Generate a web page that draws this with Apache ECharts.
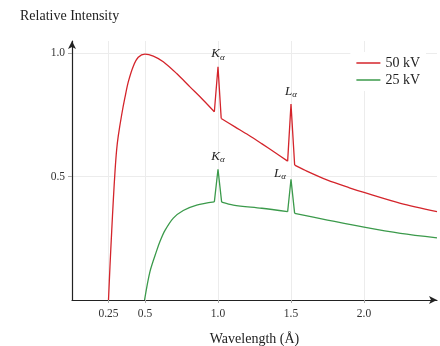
<!DOCTYPE html>
<html>
<head>
<meta charset="utf-8">
<script src="https://cdn.jsdelivr.net/npm/echarts@6/dist/echarts.min.js"></script>
<style>
  html, body { margin: 0; padding: 0; background: #fff; }
  #chart { width: 440px; height: 346px; }
</style>
</head>
<body>
<div id="chart"></div>
<script>
// 50 kV spectrum: wavelength (Å) and relative intensity
const wavelength50 = [0.25, 0.26, 0.272, 0.283, 0.295, 0.306, 0.317, 0.34, 0.363, 0.386, 0.42, 0.454, 0.5, 0.557, 0.625, 0.717, 0.808, 0.9, 0.975,
  1.0, 1.022, 1.116, 1.208, 1.299, 1.39, 1.477, 1.5, 1.525, 1.6, 1.75, 1.9, 2.0, 2.25, 2.5];
const intensity50 = [0, 0.135, 0.28, 0.405, 0.525, 0.61, 0.665, 0.75, 0.822, 0.885, 0.948, 0.984, 0.997, 0.989, 0.966, 0.918, 0.864, 0.81, 0.763,
  0.945, 0.736, 0.702, 0.669, 0.634, 0.598, 0.563, 0.794, 0.547, 0.525, 0.486, 0.455, 0.436, 0.392, 0.358];

// 25 kV spectrum
const wavelength25 = [0.497, 0.534, 0.58, 0.603, 0.637, 0.694, 0.762, 0.854, 0.975, 1.0, 1.025, 1.105, 1.3, 1.477, 1.5, 1.525, 1.75, 2.0, 2.25, 2.5];
const intensity25 = [0, 0.115, 0.2, 0.238, 0.282, 0.332, 0.363, 0.385, 0.398, 0.53, 0.397, 0.385, 0.372, 0.358, 0.489, 0.351, 0.324, 0.295, 0.27, 0.252];

const xTicks = [0.25, 0.5, 1.0, 1.5, 2.0];
const yTicks = [0.5, 1.0];

const seriesNames = ['50 kV', '25 kV'];
const seriesColors = ['#d4242b', '#3b9a4b'];

// characteristic lines: [wavelength, letter]
const lines = [[1.0, 'K'], [1.5, 'L']];

const font = '"Liberation Serif", "DejaVu Serif", serif';

const richLabel = {
  k: { fontFamily: font, fontStyle: 'italic', fontSize: 13, color: '#222' },
  a: { fontFamily: font, fontStyle: 'italic', fontSize: 9, color: '#222', padding: [7, 0, 0, 0] }
};

function peakMarks(xs, ys, green) {
  return lines.map(([x, letter]) => {
    const i = xs.indexOf(x);
    const left = green && letter === 'L';
    return {
      coord: [x, ys[i]],
      label: {
        show: true,
        position: left ? 'left' : 'top',
        distance: left ? 5 : 5,
        offset: left ? [0, -6] : [0, 0],
        formatter: '{k|' + letter + '}{a|α}',
        rich: richLabel
      }
    };
  });
}

// split a spectrum into smooth continuum pieces and sharp peak triangles
function buildSeries(idx, xs, ys) {
  const pts = xs.map((x, i) => [x, ys[i]]);
  const peakIdx = lines.map(([x]) => xs.indexOf(x));
  const base = {
    name: seriesNames[idx],
    type: 'line',
    symbol: 'none',
    color: seriesColors[idx],
    lineStyle: { width: 1.3 }
  };
  const out = [];
  let start = 0;
  peakIdx.forEach(p => {
    out.push({ ...base, smooth: 0.3, data: pts.slice(start, p) });
    out.push({ ...base, smooth: false, data: pts.slice(p - 1, p + 2) });
    start = p + 1;
  });
  out.push({ ...base, smooth: 0.3, data: pts.slice(start) });
  out[0].markPoint = { symbol: 'circle', symbolSize: 0, data: peakMarks(xs, ys, idx === 1) };
  return out;
}

const chart = echarts.init(document.getElementById('chart'));

chart.setOption({
  animation: false,
  backgroundColor: '#fff',
  grid: { left: 72, right: 3, top: 41, bottom: 46, outerBoundsMode: 'none', containLabel: false },
  legend: {
    right: 14,
    top: 52,
    orient: 'vertical',
    icon: 'rect',
    itemWidth: 24,
    itemHeight: 1.5,
    itemGap: 3,
    backgroundColor: '#fff',
    padding: [4, 6],
    textStyle: { fontFamily: font, fontSize: 14, color: '#222' },
    data: seriesNames
  },
  xAxis: {
    type: 'value',
    min: 0,
    max: 2.5,
    name: 'Wavelength (Å)',
    nameLocation: 'middle',
    nameGap: 32,
    nameTextStyle: { fontFamily: font, fontSize: 14, color: '#222' },
    axisLine: { show: true, symbol: ['none', 'arrow'], symbolSize: [6, 8], lineStyle: { color: '#222', width: 1.2 } },
    axisTick: { show: true, customValues: xTicks, length: 3, lineStyle: { color: '#aaa' } },
    axisLabel: {
      customValues: xTicks,
      formatter: v => (v === 0.25 ? '0.25' : v === 0.5 ? '0.5' : v.toFixed(1)),
      fontFamily: font, fontSize: 11.5, color: '#333', margin: 8
    },
    splitLine: { show: true, lineStyle: { color: '#ececec' } }
  },
  yAxis: {
    type: 'value',
    min: 0,
    max: 1.05,
    name: 'Relative Intensity',
    nameLocation: 'end',
    nameGap: 18,
    nameTextStyle: { fontFamily: font, fontSize: 14, color: '#222', align: 'left', padding: [0, 0, 0, -52] },
    axisLine: { show: true, symbol: ['none', 'arrow'], symbolSize: [6, 8], lineStyle: { color: '#222', width: 1.2 } },
    axisTick: { show: true, customValues: yTicks, length: 4, lineStyle: { color: '#aaa' } },
    axisLabel: {
      customValues: yTicks,
      formatter: v => v.toFixed(1),
      fontFamily: font, fontSize: 11.5, color: '#333', margin: 7
    },
    splitLine: { show: true, lineStyle: { color: '#ececec' } }
  },
  series: [
    ...buildSeries(0, wavelength50, intensity50),
    ...buildSeries(1, wavelength25, intensity25)
  ]
});
</script>
</body>
</html>
